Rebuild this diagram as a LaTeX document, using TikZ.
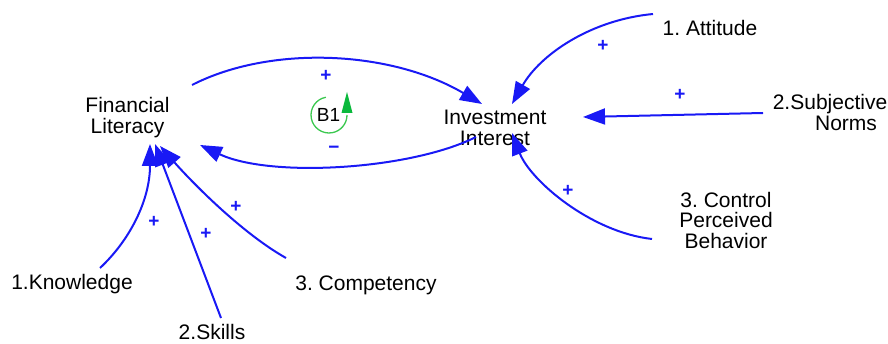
\documentclass[tikz,border=0pt]{standalone}
\usepackage{fontspec}
\setmainfont{Liberation Sans}
\usetikzlibrary{arrows.meta}
\definecolor{linkblue}{RGB}{25,25,245}
\definecolor{loopgreen}{RGB}{60,200,80}
\definecolor{loopgreenA}{RGB}{10,185,60}
\tikzset{
  var/.style={font=\frenchspacing\fontsize{21}{20.5}\selectfont, align=center, inner sep=0pt, text=black},
  link/.style={draw=linkblue, line width=2pt, -{Triangle[length=22pt,width=16pt]}},
  pol/.style={font=\bfseries\fontsize{19}{19}\selectfont, text=linkblue, inner sep=0pt},
}
\begin{document}
\begin{tikzpicture}[x=1pt,y=-1pt]
\useasboundingbox (0,0) rectangle (888,344);
% variables
\node[var] (FL) at (127.5,117.8) {Financial\\Literacy};
\node[var] (II) at (495,128) {Investment\\Interest};
\node[var, anchor=base] (AT) at (710,36) {1. Attitude};
\node[var] (SN) at (830,112.6) {2.Subjective\\\hspace*{32pt}Norms};
\node[var] (CPB) at (726,220) {3. Control\\Perceived\\Behavior};
\node[var, anchor=base] (KN) at (72,290) {1.Knowledge};
\node[var, anchor=base] (SK) at (212,339.5) {2.Skills};
\node[var, anchor=base] (CO) at (366,291) {3. Competency};
% loop marker
\node[font=\fontsize{19}{19}\selectfont, inner sep=0pt, anchor=base] (B1) at (328.5,121.7) {B1};
\draw[loopgreen, line width=1.3pt] ([shift={(0.5,-6.7)}]B1.base) ++(-100:18) arc[start angle=-100, end angle=-360, radius=18];
\fill[loopgreenA] ([shift={(13,-8.7)}]B1.base) -- ([shift={(24,-8.7)}]B1.base) -- ([shift={(18.5,-29.7)}]B1.base) -- cycle;
% links
\draw[link] ([shift={(64.5,-32.8)}]FL.center) .. controls (270,45) and (390,50) .. ([shift={(-13,-24)}]II.center);
\draw[link] ([shift={(-19,9)}]II.center) .. controls (410,170) and (270,178) .. ([shift={(72.5,27.2)}]FL.center);
\draw[link] ([shift={(-57,-22)}]AT.base) .. controls (590,20) and (540,55) .. ([shift={(17,-24)}]II.center);
\draw[link] ([shift={(-67,0.4)}]SN.center) -- ([shift={(88,-11)}]II.center);
\draw[link] ([shift={(-74,19)}]CPB.center) .. controls (590,232) and (530,180) .. ([shift={(17,5)}]II.center);
\draw[link] ([shift={(28,-22)}]KN.base) .. controls (130,240) and (150,200) .. ([shift={(22.5,26.2)}]FL.center);
\draw[link] ([shift={(9,-21.5)}]SK.base) -- ([shift={(27.5,26.2)}]FL.center);
\draw[link] ([shift={(-80,-33)}]CO.base) .. controls (240,232) and (190,180) .. ([shift={(32.5,28.2)}]FL.center);
% polarities
\node[pol] (p1) at (326,76) {+};
\node[pol] (p2) at (334,150) {−};
\node[pol] (p3) at (603,46) {+};
\node[pol] (p4) at (680,95) {+};
\node[pol] (p5) at (568,191) {+};
\node[pol] (p6) at (154,222) {+};
\node[pol] (p7) at (206,234) {+};
\node[pol] (p8) at (236,207) {+};
\end{tikzpicture}
\end{document}
